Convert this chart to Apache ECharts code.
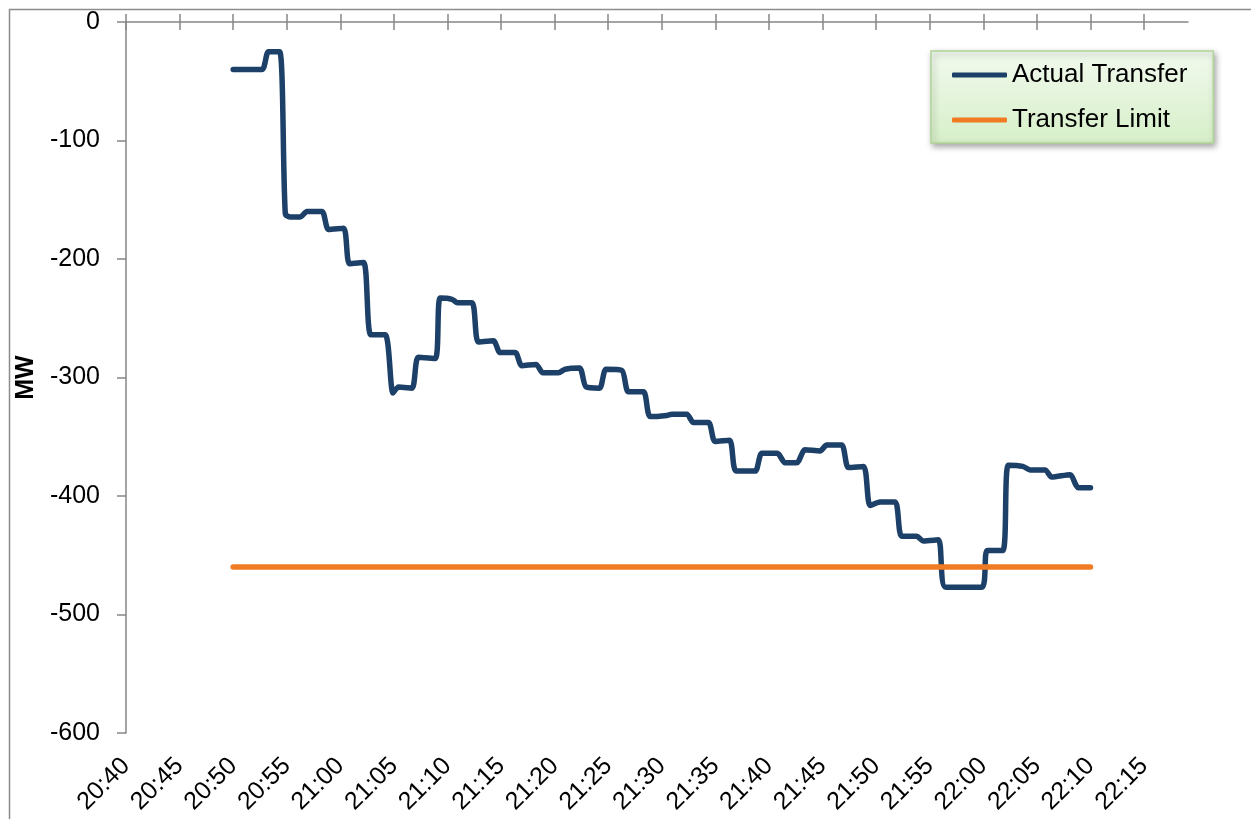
<!DOCTYPE html>
<html>
<head>
<meta charset="utf-8">
<script src="https://cdn.jsdelivr.net/npm/echarts@6/dist/echarts.min.js"></script>
<style>
html,body{margin:0;padding:0;background:#fff;}
#chart{width:1251px;height:819px;}
</style>
</head>
<body>
<div id="chart"></div>
<script>
// ---- data ----
const xTickLabels = ['20:40','20:45','20:50','20:55','21:00','21:05','21:10','21:15','21:20','21:25',
  '21:30','21:35','21:40','21:45','21:50','21:55','22:00','22:05','22:10','22:15'];
const xAxisStart = '20:40:00';
const xAxisEnd = '22:19:06';

const actualTimes = ['20:50:00','20:52:41','20:53:18','20:54:20','20:54:52','20:55:20','20:56:16','20:56:53',
  '20:58:17','20:58:54','21:00:18','21:00:52','21:02:10','21:02:51','21:04:11','21:04:55','21:05:26',
  '21:06:41','21:07:17','21:08:51','21:09:19','21:10:25','21:10:56','21:12:17','21:12:53','21:14:17',
  '21:14:55','21:16:19','21:16:56','21:18:16','21:18:54','21:20:21','21:20:59','21:22:19','21:22:56',
  '21:24:11','21:24:48','21:26:16','21:26:53','21:28:17','21:28:55','21:30:28','21:30:56','21:32:20',
  '21:32:57','21:34:21','21:34:58','21:36:19','21:36:56','21:38:42','21:39:20','21:40:47','21:41:30',
  '21:42:35','21:43:22','21:44:46','21:45:23','21:46:47','21:47:25','21:48:49','21:49:26','21:50:22',
  '21:51:46','21:52:23','21:53:47','21:54:24','21:55:48','21:56:29','21:59:51','22:00:22','22:01:49',
  '22:02:20','22:03:41','22:04:22','22:05:46','22:06:23','22:08:05','22:08:52','22:10:00'];
const actualValues = [-40,-40,-25,-25,-162,-164.5,-164.5,-160,
  -160,-175,-174,-204,-203,-264,-264,-313,-308,
  -309,-283,-284,-233,-234,-237,-237,-270,-269,
  -279,-279,-290,-289,-296,-296,-293,-292,-308,
  -309,-293,-294,-312,-312,-333,-332,-331,-331,
  -338,-338,-354,-353,-379,-379,-364,-364,-372,
  -372,-361,-362,-357,-357,-376,-375,-408,-405,
  -405,-434,-434,-438,-437,-477,-477,-446,-446,
  -374,-375,-378,-378,-384,-382,-393,-393];

const limitTimes = ['20:50:00','22:10:00'];
const limitValues = [-460,-460];

const seriesNames = ['Actual Transfer','Transfer Limit'];
const yAxisName = 'MW';

// ---- helpers ----
function toMin(s){ const p = s.split(':').map(Number); return p[0]*60 + p[1] + (p[2]||0)/60; }
function fmt(v){ const h = Math.floor(v/60), m = Math.round(v - h*60); return h + ':' + String(m).padStart(2,'0'); }

const xMin = toMin(xAxisStart), xMax = toMin(xAxisEnd);
const tickVals = xTickLabels.map(toMin);
const actualData = actualTimes.map((t,i)=>[toMin(t), actualValues[i]]);
const limitData = limitTimes.map((t,i)=>[toMin(t), limitValues[i]]);

const FONT = '"Liberation Sans", Arial, sans-serif';
const AX = '#868686';
const BLUE = '#1c4068', ORANGE = '#f07b22';

const chart = echarts.init(document.getElementById('chart'), null, {renderer:'canvas'});
const baseX = {type:'value', min:xMin, max:xMax, gridIndex:0, splitLine:{show:false}};
chart.setOption({
  animation:false,
  backgroundColor:'#ffffff',
  grid:{left:126, top:22, width:1062, height:711, containLabel:false},
  graphic:[{type:'rect', left:7, top:7, shape:{width:1400, height:1000},
    style:{fill:'none', stroke:'#8c8c8c', lineWidth:1.5}, silent:true, z:-1}],
  legend:{
    orient:'vertical', left:931, top:51,
    padding:[9,26,8,21], itemGap:15, itemWidth:55, itemHeight:5, itemTextGap:5,
    icon:'roundRect',
    backgroundColor:new echarts.graphic.LinearGradient(0,0,0,1,[{offset:0,color:'#f2faee'},{offset:1,color:'#d6efc8'}]),
    borderColor:'#b0d597', borderWidth:1.5,
    shadowBlur:6, shadowOffsetX:2, shadowOffsetY:3, shadowColor:'rgba(0,0,0,0.35)',
    textStyle:{fontFamily:FONT, fontSize:26, color:'#000', lineHeight:30},
    data:seriesNames
  },
  xAxis:[
    Object.assign({}, baseX, {position:'bottom',
      axisLine:{show:false}, axisTick:{show:false},
      axisLabel:{show:true, rotate:45, margin:29, fontFamily:FONT, fontSize:25, color:'#000',
        hideOverlap:false, customValues:tickVals, formatter:fmt}}),
    Object.assign({}, baseX, {position:'top',
      axisLine:{show:true, onZero:false, lineStyle:{color:AX, width:1.5}},
      axisTick:{show:true, inside:false, length:8, customValues:tickVals, lineStyle:{color:AX, width:1.5}},
      axisLabel:{show:false}}),
    Object.assign({}, baseX, {position:'top',
      axisLine:{show:false},
      axisTick:{show:true, inside:true, length:8, customValues:tickVals, lineStyle:{color:AX, width:1.5}},
      axisLabel:{show:false}})
  ],
  yAxis:{type:'value', min:-600, max:0, interval:100, position:'left',
    name:yAxisName, nameLocation:'middle', nameRotate:90, nameGap:83,
    nameTextStyle:{fontFamily:FONT, fontSize:25, fontWeight:'bold', color:'#000'},
    axisLine:{show:true, onZero:false, lineStyle:{color:AX, width:1.5}},
    axisTick:{show:true, inside:false, length:9, lineStyle:{color:AX, width:1.5}},
    axisLabel:{margin:26, fontFamily:FONT, fontSize:25, color:'#000'},
    splitLine:{show:false}},
  series:[
    {name:seriesNames[0], type:'line', xAxisIndex:0, data:actualData, showSymbol:false, symbol:'none',
      smooth:0.25, color:BLUE, itemStyle:{color:BLUE},
      lineStyle:{width:5.5, color:BLUE, cap:'round', join:'round'}, z:2},
    {name:seriesNames[1], type:'line', xAxisIndex:0, data:limitData, showSymbol:false, symbol:'none',
      color:ORANGE, itemStyle:{color:ORANGE},
      lineStyle:{width:5.5, color:ORANGE, cap:'round', join:'round'}, z:3}
  ]
});
</script>
</body>
</html>
